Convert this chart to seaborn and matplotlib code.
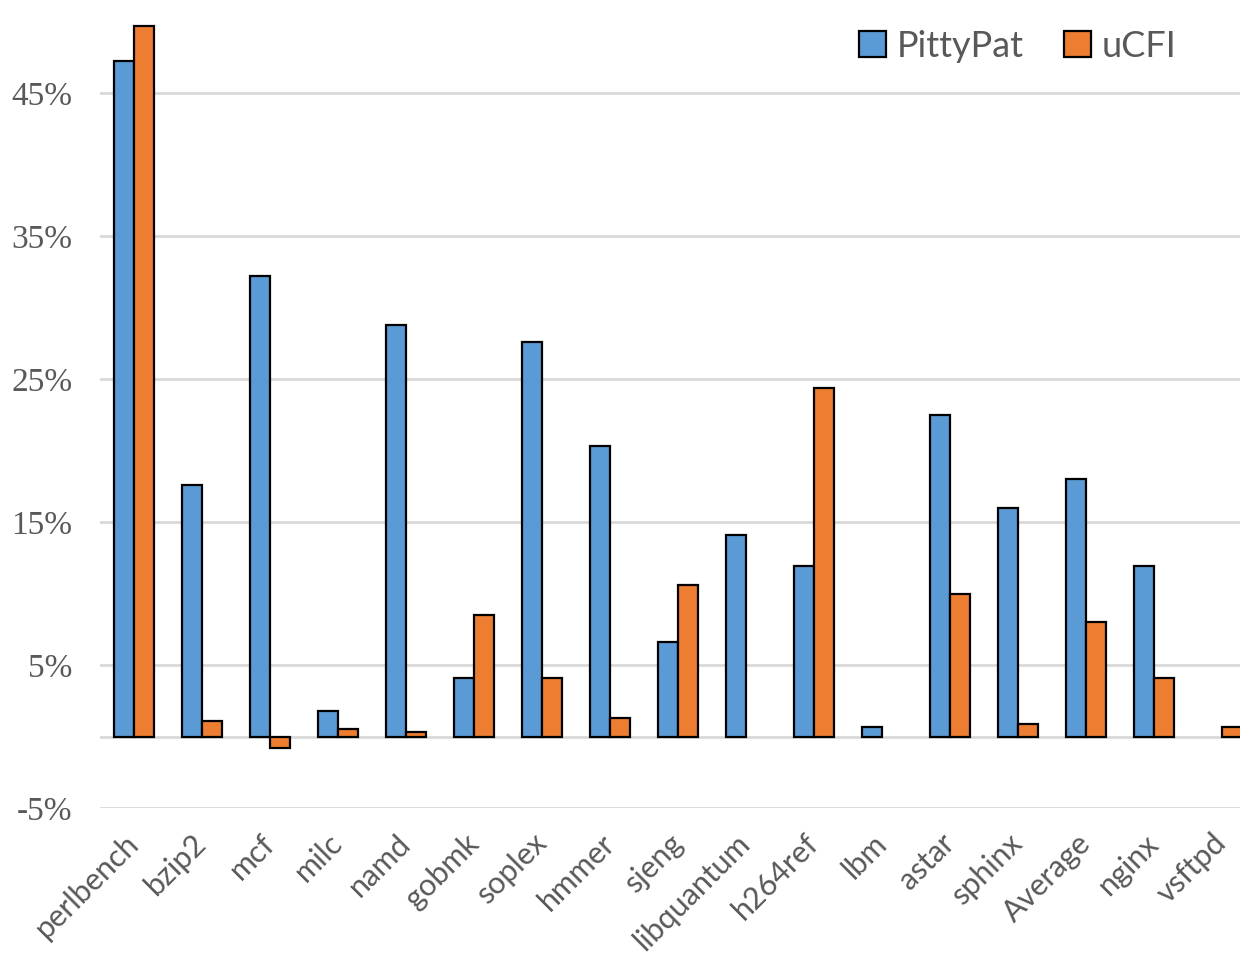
import numpy as np
import pandas as pd
import matplotlib
matplotlib.use('Agg')
import matplotlib.pyplot as plt
import seaborn as sns
from matplotlib.ticker import FuncFormatter

benchmarks = ['perlbench', 'bzip2', 'mcf', 'milc', 'namd', 'gobmk', 'soplex',
              'hmmer', 'sjeng', 'libquantum', 'h264ref', 'lbm', 'astar',
              'sphinx', 'Average', 'nginx', 'vsftpd']
pittypat = [47.3, 17.6, 32.2, 1.8, 28.8, 4.1, 27.6, 20.3, 6.6, 14.1, 11.9,
            0.7, 22.5, 16.0, 18.0, 11.9, np.nan]
ucfi = [49.7, 1.1, -0.8, 0.5, 0.3, 8.5, 4.1, 1.3, 10.6, np.nan, 24.4,
        np.nan, 10.0, 0.9, 8.0, 4.1, 0.7]
series = ['PittyPat', 'uCFI']
colors = ['#5B9BD5', '#ED7D31']

df = pd.DataFrame({
    'bench': benchmarks * 2,
    'tool': [series[0]] * len(benchmarks) + [series[1]] * len(benchmarks),
    'overhead': pittypat + ucfi,
})

sns.set_style('white')
fig = plt.figure(figsize=(12.4, 9.56), dpi=100)
# right side runs off the figure, like the original
ax = fig.add_axes([100 / 1240, 148 / 956, 1156 / 1240, 786 / 956])

sns.barplot(data=df, x='bench', y='overhead', hue='tool', order=benchmarks,
            hue_order=series, palette=colors, width=0.6, edgecolor='black',
            linewidth=1.6, saturation=1, errorbar=None, ax=ax)

ax.set_ylim(-5, 50)
ax.set_xlim(-0.5, len(benchmarks) - 0.5)
ax.set_yticks([-5, 5, 15, 25, 35, 45])
ax.set_yticks([0], minor=True)
ax.yaxis.set_major_formatter(FuncFormatter(lambda v, p: '%d%%' % v))
ax.yaxis.grid(True, which='both', color='#D9D9D9', linewidth=2)
ax.set_axisbelow(True)
sns.despine(ax=ax, left=True, bottom=True, top=True, right=True)
ax.set_xlabel('')
ax.set_ylabel('')
ax.tick_params(axis='both', which='both', length=0)
ax.tick_params(axis='y', pad=20)
ax.tick_params(axis='x', pad=22)

for t in ax.get_yticklabels():
    t.set_family('Liberation Serif')
    t.set_fontsize(24)
    t.set_color('#595959')
for t in ax.get_xticklabels():
    t.set_family('Lato')
    t.set_fontsize(22)
    t.set_color('#595959')
    t.set_rotation(45)
    t.set_ha('right')
    t.set_va('center')
    t.set_rotation_mode('anchor')

handles, labels = ax.get_legend_handles_labels()
ax.legend_.remove()
leg = fig.legend(handles, labels, loc='upper right', bbox_to_anchor=(0.975, 1.003),
                 ncol=2, frameon=False, prop={'family': 'Lato', 'size': 26},
                 handlelength=0.75, handleheight=0.75, handletextpad=0.3,
                 columnspacing=1.1)
for t in leg.get_texts():
    t.set_color('#595959')

fig.savefig('out.png', dpi=100)
